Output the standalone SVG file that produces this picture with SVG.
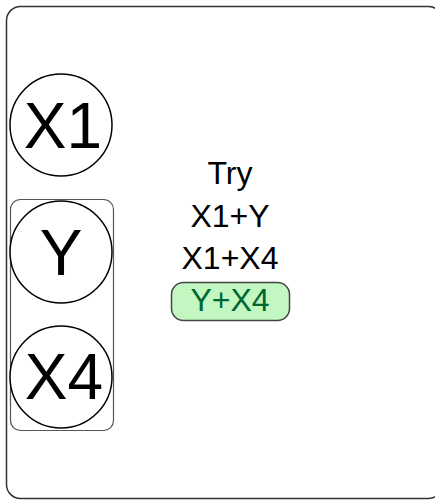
<svg xmlns="http://www.w3.org/2000/svg" width="435" height="500" viewBox="0 0 435 500">
<style>
.node circle{fill:#fff;stroke:#000;stroke-width:1.5}
.big{font-family:"Liberation Sans",Arial,sans-serif;font-size:64px;fill:#000;text-anchor:middle}
.lbl{font-family:"Liberation Sans",Arial,sans-serif;font-size:32px;fill:#000;text-anchor:middle}
</style>
<rect width="435" height="500" fill="#fff"/>
<rect x="6.5" y="6.5" width="436" height="492" rx="14" fill="#fff" stroke="#333" stroke-width="1.5"/>
<g id="group">
<rect x="10.5" y="199.5" width="103" height="231" rx="10" fill="none" stroke="#555" stroke-width="1.2"/>
</g>
<g id="connectors"></g>
<g id="X1" class="node"><circle cx="61" cy="125" r="51"/><text class="big" x="63" y="148">X1</text></g>
<g id="Y" class="node"><circle cx="61" cy="252" r="51"/><text class="big" x="61" y="275">Y</text></g>
<g id="X4" class="node"><circle cx="61" cy="377" r="51"/><text class="big" x="64" y="399">X4</text></g>
<g id="tries">
<text class="lbl" x="230" y="184">Try</text>
<text class="lbl" x="230" y="227">X1+Y</text>
<text class="lbl" x="230" y="269">X1+X4</text>
<g id="Y_X4"><rect x="171.5" y="282.5" width="118" height="38" rx="12" fill="#c2f7c2" stroke="#444" stroke-width="1.5"/>
<text class="lbl" x="230" y="311" style="fill:#063">Y+X4</text></g>
</g>
</svg>
